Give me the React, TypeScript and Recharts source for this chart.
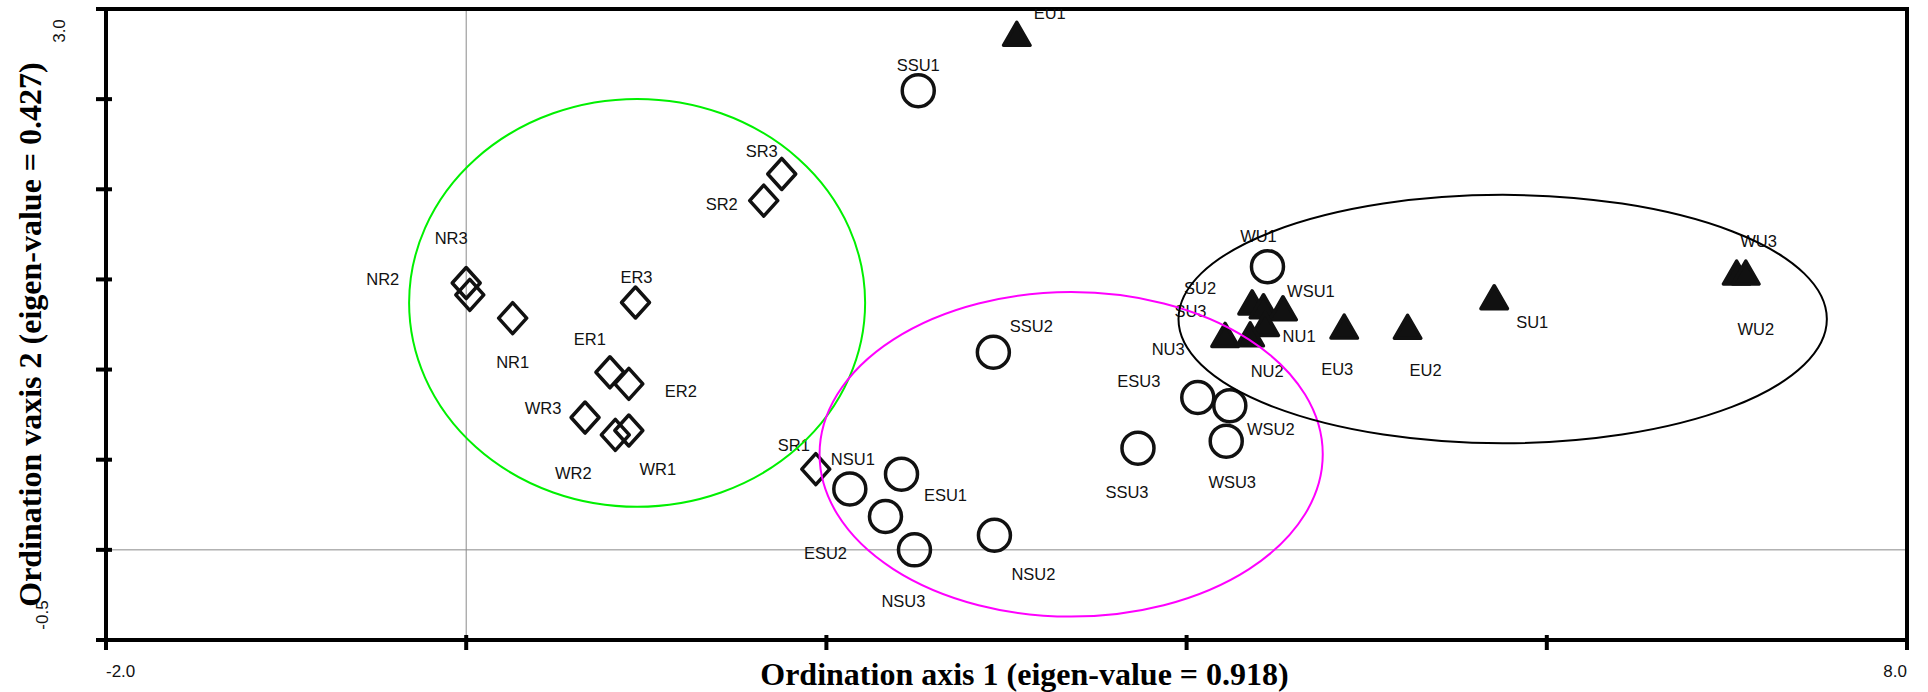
import React from 'react';
import { ScatterChart, Scatter, XAxis, YAxis, ReferenceLine } from 'recharts';

// ---------- layout constants ----------
const CHART_W = 1928;
const CHART_H = 692;
const MARGIN = { top: 9, right: 21, bottom: 0, left: 0 };
const Y_AXIS_W = 106;
const X_AXIS_H = 52;

// ---------- axes ----------
const X_DOMAIN: [number, number] = [-2, 8];
const Y_DOMAIN: [number, number] = [-0.5, 3];
const xTicks = [-2, 0, 2, 4, 6, 8];
const yTicks = [-0.5, 0, 0.5, 1, 1.5, 2, 2.5, 3];
const xTickLabels: Record<string, string> = { '-2': '-2.0', '8': '8.0' };
const yTickLabels: Record<string, string> = { '3': '3.0', '-0.5': '-0.5' };
const xTitle = 'Ordination axis 1 (eigen-value = 0.918)';
const yTitle = 'Ordination vaxis 2 (eigen-value = 0.427)';

// ---------- series: diamonds (R sites) ----------
const diamondNames = ['NR3', 'NR2', 'NR1', 'ER3', 'ER1', 'ER2', 'WR3', 'WR2', 'WR1', 'SR3', 'SR2', 'SR1'];
const diamondX = [0.0, 0.02, 0.258, 0.94, 0.798, 0.903, 0.66, 0.828, 0.903, 1.752, 1.652, 1.941];
const diamondY = [1.48, 1.414, 1.285, 1.372, 0.985, 0.921, 0.734, 0.638, 0.662, 2.085, 1.937, 0.448];

// ---------- series: circles (SU sites) ----------
const circleNames = ['SSU1', 'SSU2', 'NSU1', 'ESU1', 'ESU2', 'NSU3', 'NSU2', 'SSU3', 'ESU3', 'WSU2', 'WSU3', 'WU1'];
const circleX = [2.51, 2.927, 2.13, 2.417, 2.328, 2.489, 2.933, 3.73, 4.062, 4.24, 4.22, 4.449];
const circleY = [2.547, 1.096, 0.338, 0.42, 0.185, 0.0, 0.081, 0.564, 0.845, 0.8, 0.603, 1.571];

// ---------- series: triangles (U sites) ----------
const triNames = ['EU1', 'SU1', 'EU2', 'EU3', 'SU2', 'SU3', 'WSU1', 'NU1', 'NU3', 'NU2', 'WU3', 'WU2'];
const triX = [3.057, 5.708, 5.227, 4.875, 4.364, 4.427, 4.535, 4.436, 4.214, 4.353, 7.054, 7.105];
const triY = [2.841, 1.38, 1.216, 1.217, 1.351, 1.33, 1.319, 1.232, 1.171, 1.174, 1.517, 1.517];

// ---------- group ellipses (data units) ----------
const ellipseNames = ['green', 'magenta', 'black'];
const ellipseCx = [0.949, 3.359, 5.755];
const ellipseCy = [1.37, 0.53, 1.28];
const ellipseRx = [1.266, 1.397, 1.8];
const ellipseRy = [1.131, 0.9, 0.689];
const ellipseColors: Record<string, string> = { green: '#00f000', magenta: '#ff00ff', black: '#000000' };

// ---------- label placement (pixel offsets from marker centre) ----------
const labelOffsets: Record<string, [number, number]> = {
  NR3: [-15, -45], NR2: [-87, -16], NR1: [0, 44], ER3: [1, -26], ER1: [-20, -33], ER2: [52, 7],
  WR3: [-42, -10], WR2: [-42, 38], WR1: [29, 38], SR3: [-20, -23], SR2: [-42, 3], SR1: [-22, -24],
  SSU1: [0, -26], SSU2: [38, -26], NSU1: [3, -30], ESU1: [44, 21], ESU2: [-60, 36], NSU3: [-11, 51],
  NSU2: [39, 39], SSU3: [-11, 44], ESU3: [-59, -17], WSU2: [41, 23], WSU3: [6, 41], WU1: [-9, -31],
  EU1: [33, -25], SU1: [38, 21], EU2: [18, 39], EU3: [-7, 39], SU2: [-52, -18], SU3: [-73, 1],
  WSU1: [28, -21], NU1: [34, 8], NU3: [-57, 10], NU2: [17, 33], WU3: [22, -35], WU2: [10, 53],
};

const build = (names: string[], xs: number[], ys: number[]) =>
  names.map((name, i) => ({ name, x: xs[i], y: ys[i] }));

const diamondData = build(diamondNames, diamondX, diamondY);
const circleData = build(circleNames, circleX, circleY);
const triData = build(triNames, triX, triY);
const ellipseData = ellipseNames.map((name, i) => ({
  name, x: ellipseCx[i], y: ellipseCy[i], rx: ellipseRx[i], ry: ellipseRy[i],
}));

const PLOT_W = CHART_W - MARGIN.left - MARGIN.right - Y_AXIS_W;
const PLOT_H = CHART_H - MARGIN.top - MARGIN.bottom - X_AXIS_H;
const PX_PER_X = PLOT_W / (X_DOMAIN[1] - X_DOMAIN[0]);
const PX_PER_Y = PLOT_H / (Y_DOMAIN[1] - Y_DOMAIN[0]);

const INK = '#111';
const SANS = '"Liberation Sans", Arial, sans-serif';
const SERIF = '"Liberation Serif", "Times New Roman", serif';

const PointLabel = ({ cx, cy, name }: { cx: number; cy: number; name: string }) => {
  const off = labelOffsets[name] || [0, -25];
  return (
    <text x={cx + off[0]} y={cy + off[1]} textAnchor="middle" dominantBaseline="central"
      fontFamily={SANS} fontSize={16.5} fill={INK}>
      {name}
    </text>
  );
};

const DiamondShape = (props: any) => {
  const { cx, cy, payload } = props;
  const hw = 14, hh = 15.5;
  return (
    <g>
      <path d={`M${cx},${cy - hh}L${cx + hw},${cy}L${cx},${cy + hh}L${cx - hw},${cy}Z`}
        fill="none" stroke={INK} strokeWidth={3.5} strokeLinejoin="round" />
      <PointLabel cx={cx} cy={cy} name={payload.name} />
    </g>
  );
};

const CircleShape = (props: any) => {
  const { cx, cy, payload } = props;
  return (
    <g>
      <circle cx={cx} cy={cy} r={16} fill="none" stroke={INK} strokeWidth={3.5} />
      <PointLabel cx={cx} cy={cy} name={payload.name} />
    </g>
  );
};

const TriangleShape = (props: any) => {
  const { cx, cy, payload } = props;
  const h = 23, w = 26.5;
  const pts = `${cx},${cy - (2 * h) / 3} ${cx + w / 2},${cy + h / 3} ${cx - w / 2},${cy + h / 3}`;
  return (
    <g>
      <polygon points={pts} fill={INK} stroke={INK} strokeWidth={3.5} strokeLinejoin="round" />
      <PointLabel cx={cx} cy={cy} name={payload.name} />
    </g>
  );
};

const EllipseShape = (props: any) => {
  const { cx, cy, payload } = props;
  return (
    <ellipse cx={cx} cy={cy} rx={payload.rx * PX_PER_X} ry={payload.ry * PX_PER_Y}
      fill="none" stroke={ellipseColors[payload.name]} strokeWidth={2} />
  );
};

const XTick = (props: any) => {
  const { x, y, payload } = props;
  const label = xTickLabels[String(payload.value)];
  const anchor = payload.value === X_DOMAIN[0] ? 'start' : 'end';
  return (
    <g>
      <line x1={x} x2={x} y1={y - 5} y2={y + 10} stroke="#000" strokeWidth={4} />
      {label && (
        <text x={x} y={y + 37} textAnchor={anchor} fontFamily={SANS} fontSize={17} fill={INK}>
          {label}
        </text>
      )}
    </g>
  );
};

const YTick = (props: any) => {
  const { x, y, payload } = props;
  const label = yTickLabels[String(payload.value)];
  const isTop = payload.value === Y_DOMAIN[1];
  const lx = isTop ? x - 47 : x - 64;
  const ly = isTop ? y + 22 : y - 25;
  return (
    <g>
      <line x1={x - 10} x2={x + 6} y1={y} y2={y} stroke="#000" strokeWidth={4} />
      {label && (
        <text x={lx} y={ly} transform={`rotate(-90 ${lx} ${ly})`} textAnchor="middle"
          dominantBaseline="central" fontFamily={SANS} fontSize={17} fill={INK}>
          {label}
        </text>
      )}
    </g>
  );
};

const XTitle = (props: any) => {
  const vb = props.viewBox || { x: Y_AXIS_W, y: CHART_H - X_AXIS_H, width: PLOT_W, height: X_AXIS_H };
  return (
    <text x={vb.x + vb.width / 2 + 18} y={vb.y + 45} textAnchor="middle"
      fontFamily={SERIF} fontWeight="bold" fontSize={32} fill="#000">
      {xTitle}
    </text>
  );
};

const YTitle = (props: any) => {
  const vb = props.viewBox || { x: 0, y: MARGIN.top, width: Y_AXIS_W, height: PLOT_H };
  const tx = 41;
  const ty = vb.y + vb.height / 2 + 10;
  return (
    <text x={tx} y={ty} transform={`rotate(-90 ${tx} ${ty})`} textAnchor="middle"
      fontFamily={SERIF} fontWeight="bold" fontSize={32} fill="#000">
      {yTitle}
    </text>
  );
};

export default function App() {
  return (
    <div style={{ position: 'absolute', left: 0, top: 0, width: CHART_W, height: CHART_H, background: '#fff' }}>
      <ScatterChart width={CHART_W} height={CHART_H} margin={MARGIN}>
        <XAxis type="number" dataKey="x" domain={X_DOMAIN} ticks={xTicks} interval={0}
          height={X_AXIS_H} axisLine={{ stroke: '#000', strokeWidth: 4 }} tickLine={false}
          tickSize={0} tickMargin={0} tick={<XTick />} allowDataOverflow
          label={{ content: <XTitle /> } as any} />
        <YAxis type="number" dataKey="y" domain={Y_DOMAIN} ticks={yTicks} interval={0}
          width={Y_AXIS_W} axisLine={{ stroke: '#000', strokeWidth: 4 }} tickLine={false}
          tickSize={0} tickMargin={0} tick={<YTick />} allowDataOverflow
          label={{ content: <YTitle /> } as any} />
        <ReferenceLine x={0} stroke="#8a8a8a" strokeWidth={1} />
        <ReferenceLine y={0} stroke="#8a8a8a" strokeWidth={1} />
        <ReferenceLine y={Y_DOMAIN[1]} stroke="#000" strokeWidth={4} strokeLinecap="square" />
        <ReferenceLine x={X_DOMAIN[1]} stroke="#000" strokeWidth={4} strokeLinecap="square" />
        <Scatter name="R sites" data={diamondData} shape={DiamondShape} isAnimationActive={false} />
        <Scatter name="SU sites" data={circleData} shape={CircleShape} isAnimationActive={false} />
        <Scatter name="U sites" data={triData} shape={TriangleShape} isAnimationActive={false} />
        <Scatter name="groups" data={ellipseData} shape={EllipseShape} isAnimationActive={false} />
      </ScatterChart>
    </div>
  );
}
